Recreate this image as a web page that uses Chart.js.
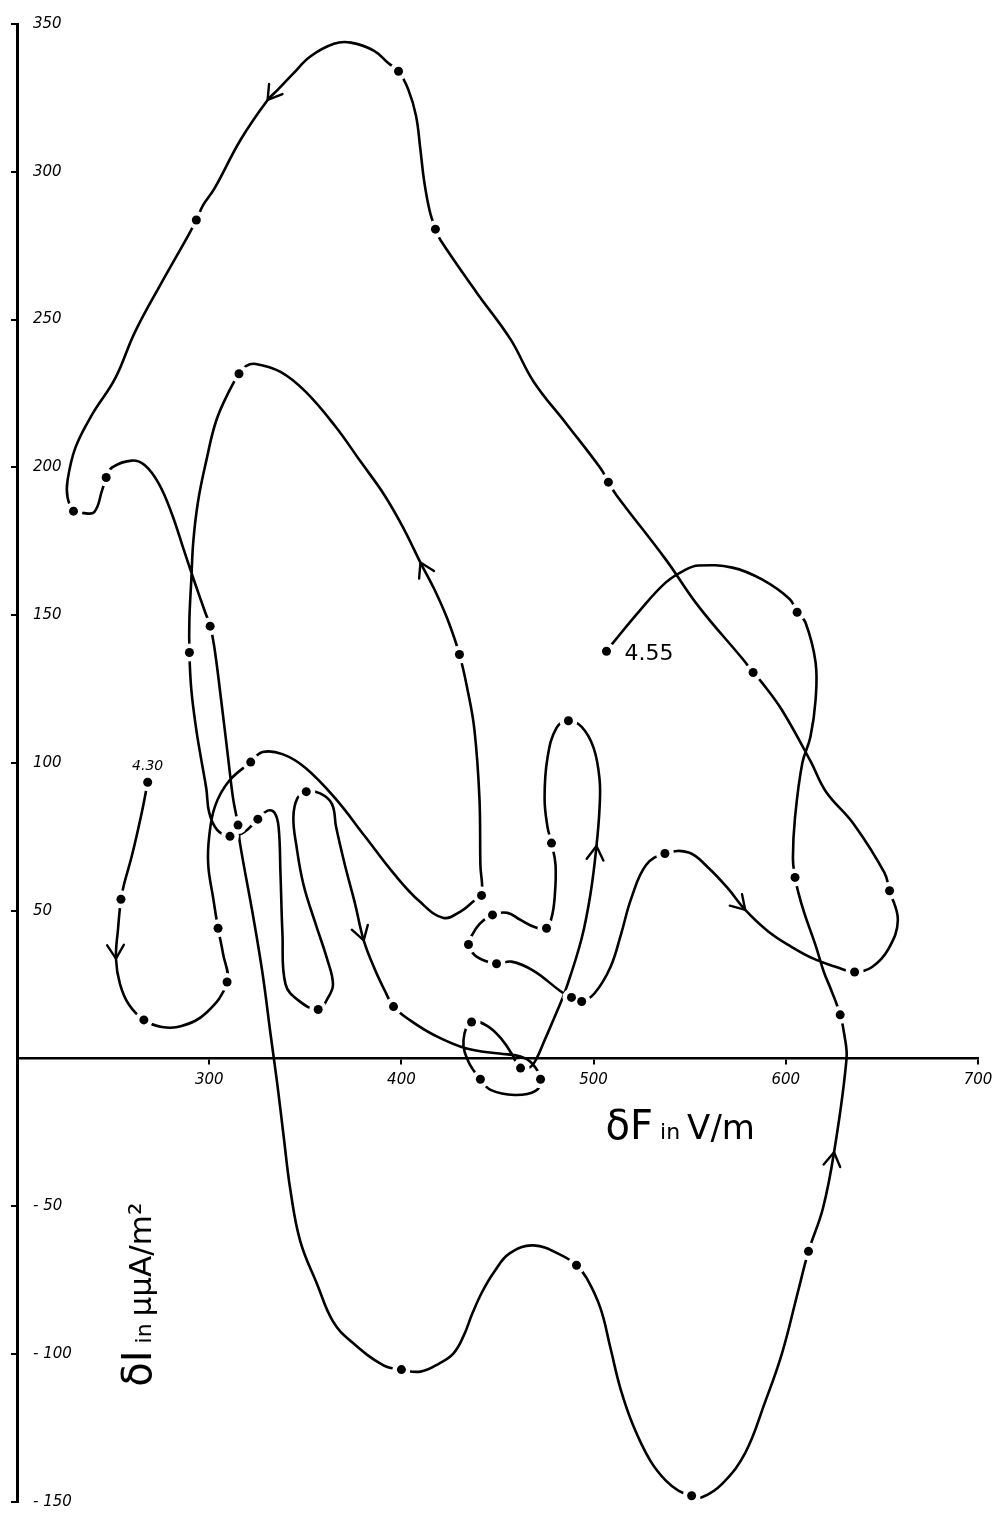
<!DOCTYPE html>
<html>
<head>
<meta charset="utf-8">
<script src="https://cdn.jsdelivr.net/npm/chart.js@4.4.1/dist/chart.umd.min.js"></script>
<style>
  html, body { margin: 0; padding: 0; background: #fff; }
  canvas { display: block; }
</style>
</head>
<body>
<canvas id="phase" width="1001" height="1513"></canvas>
<script>
// δF (V/m) against δI (μμA/m²), traced in time order from 4.30 to 4.55.
// A third entry of 1 marks a timed reading (drawn as a dot).
const run430 = [
  [268.0,93.5,1],[264.9,83.2],[259.8,68.7],[255.7,59.0],[254.1,53.9,1],[252.6,44.1],[251.5,33.8],
  [253.6,25.2],[258.2,18.3],[266.0,13.1,1],[275.3,10.7],[285.6,11.0],[298.5,15.5],[309.3,25.9,1],
  [307.2,35.5],[304.6,44.1,1],[302.1,54.2],[299.5,65.5],[300.0,75.2],[303.1,85.5],[310.3,93.9],
  [321.6,100.3,1],[327.8,103.7],[338.1,103.0],[350.0,98.4],[365.5,88.1],[381.0,75.2],[396.4,62.3],
  [409.4,53.2],[421.9,47.6],[431.3,50.0],[437.5,53.2],[441.7,55.2,1]
];
const innerArch = [
  [441.1,65.5],[440.6,88.1],[438.0,111.2],[434.4,124.8],[430.2,136.7,1],[424.0,148.6],[417.2,158.7],
  [409.9,167.8],[401.5,178.9],[391.2,190.6],[378.4,202.3],[365.5,214.0],[350.0,225.7],[337.1,232.3],
  [324.2,235.0],[319.1,234.3],[315.5,231.7,1],[310.3,225.7],[303.6,215.7],[298.5,202.3],[294.3,188.9],
  [291.8,175.5],[290.7,162.1],[289.7,148.6],[289.7,137.4,1],[290.7,124.8],[293.3,111.2],[295.9,101.0],
  [298.5,91.3],[300.0,83.2],[304.1,77.4]
];
const narrowLoop = [
  [310.8,75.2,1],[318.0,76.5],[325.3,81.0,1],[330.4,83.9],[334.0,83.2],[336.1,78.4],[337.1,62.3],
  [338.1,42.4],[339.7,25.2],[346.4,19.7],[356.7,16.6,1],[361.9,20.7],[364.4,25.2],[361.3,33.8],
  [355.2,45.9],[349.0,59.0],[345.4,71.9],[343.8,81.6],[345.9,88.1],[350.5,90.3,1],[357.7,89.7],
  [363.9,86.1],[366.0,78.4],[370.6,65.5],[375.8,52.6],[380.4,40.0],[386.1,30.3],[391.8,22.4],
  [395.9,17.6,1],[404.2,13.1],[417.2,7.9],[433.9,3.4],[451.0,1.7],[462.0,0.7]
];
const axisLoop = [
  [468.2,-1.8],[472.4,-7.0,1],[469.8,-10.9],[458.9,-12.3],[446.4,-10.6],[441.1,-7.0,1],[434.9,-1.1],
  [432.3,6.2],[436.5,12.4,1],[444.8,11.0],[452.6,6.2],[457.3,1.7],[462.0,-3.2,1],[467.2,-2.8],
  [470.3,0.0],[474.5,6.2],[480.2,14.8],[485.9,24.1],[493.8,40.7],[498.4,55.8]
];
const centreLoop = [
  [501.5,71.9],[503.1,84.8],[503.1,94.5],[500.0,105.1],[493.8,112.2],[486.9,114.3,1],[480.7,111.9],
  [476.0,101.7],[474.5,88.1],[476.0,78.4],[478.1,72.9,1],[480.2,65.5],[479.7,54.2],[478.1,47.6],
  [475.5,44.1,1],[469.3,44.5],[462.0,46.9],[455.2,49.3],[447.4,48.6,1],[440.6,45.5],[435.9,40.7],
  [434.9,38.6,1],[439.1,34.5],[449.5,32.1,1],[457.3,32.8],[468.8,29.7],[482.8,22.8],[488.5,20.7,1],
  [493.8,19.3,1],[500.5,22.1],[508.8,31.0],[514.4,42.4],[519.6,54.2],[527.3,65.5],[537.1,69.4,1],
  [549.5,69.7],[559.8,64.5],[570.1,57.4],[578.9,50.3],[590.7,43.1],[602.7,37.9],[614.4,33.8],
  [626.2,31.0],[635.8,29.3,1],[644.9,31.0],[653.5,37.2],[658.3,46.9],[654.0,56.8,1]
];
const outerArch = [
  [651.3,62.9],[635.3,79.4],[620.9,90.3],[612.8,100.7],[597.9,118.0],[587.6,127.2],[583.0,130.6,1],
  [577.8,135.0],[554.6,153.0],[537.6,168.8],[511.9,190.6],[507.7,195.0,1],[503.6,199.7],[485.9,214.7],
  [468.8,229.0],[456.8,243.3],[439.1,259.2],[420.3,276.9],[417.7,280.6,1],[414.6,287.1],[411.8,297.0],
  [409.8,308.0],[407.6,319.0],[403.6,327.8],[398.5,334.0,1],[393.3,336.7],[385.6,341.0],[373.7,343.7],
  [364.9,343.3],[352.6,339.0],[343.8,333.3],[335.6,327.7],[330.4,324.3],[316.5,311.0],[302.6,294.2],
  [296.9,288.8],[293.3,283.7,1],[289.2,278.6],[275.3,262.6],[261.3,245.7],[251.0,230.0],[239.2,218.0],
  [230.4,206.7],[226.3,195.6],[226.3,189.9],[229.4,185.2,1],[234.0,184.6],[240.2,184.9],[244.3,192.3],
  [246.4,196.6,1],[249.5,200.0],[259.8,202.3],[266.5,200.7],[273.7,194.6],[280.4,184.6],[287.1,171.5],
  [292.3,161.4],[297.9,151.0],[300.5,146.3,1],[302.6,139.5],[306.2,121.4],[309.8,102.0],[312.4,88.1],
  [315.0,79.0,1],[316.0,72.9],[323.2,46.9],[327.8,28.6],[332.0,7.9],[335.6,-9.5]
];
const lowerLobe = [
  [338.7,-26.1],[342.3,-44.7],[347.4,-61.8],[356.2,-76.4],[364.4,-88.9],[373.7,-95.6],[390.7,-103.8],
  [400.0,-105.2,1],[409.9,-105.9],[419.8,-103.1],[427.1,-99.7],[432.3,-93.9],[437.0,-86.1],
  [442.2,-78.7],[448.4,-72.0],[456.3,-65.9],[468.8,-63.2],[484.4,-66.9],[491.1,-69.9,1],[496.4,-74.3],
  [503.6,-84.5],[508.8,-98.0],[514.0,-111.7],[520.6,-124.1],[529.4,-135.9],[537.6,-142.8],
  [544.3,-146.2],[551.0,-147.9,1],[556.7,-148.3],[567.0,-143.8],[578.9,-133.4],[589.2,-116.2],
  [597.9,-100.0],[606.4,-78.7],[611.8,-65.2,1],[619.3,-50.7],[625.1,-31.7],[631.6,0.0]
];
const run455 = [
  [630.5,7.9],[628.3,14.8,1],[623.5,23.4],[619.8,29.3],[615.5,38.3],[609.6,49.3],[606.4,56.5],
  [604.8,61.3,1],[603.7,67.7],[604.8,81.6],[608.6,100.0],[612.8,108.8],[615.5,121.4],[615.5,134.0],
  [610.2,147.6],[605.9,151.0,1],[602.1,155.4],[587.6,162.1],[572.2,166.1],[554.6,166.8],[547.9,165.4],
  [537.6,161.1],[523.7,151.3],[510.3,140.8],[506.7,137.8,1]
];

// points on the trace where the direction of travel is marked
const arrowAt = [[251.5,33.8],[409.9,167.8],[380.4,40.0],[501.5,71.9],[578.9,50.3],[330.4,324.3],[625.1,-31.7]];

const startLabel = '4.30';
const endLabel = '4.55';
const xTicks = [300, 400, 500, 600, 700];
const yTicks = [-150, -100, -50, 50, 100, 150, 200, 250, 300, 350];

const trace = [].concat(run430, innerArch, narrowLoop, axisLoop, centreLoop, outerArch, lowerLobe, run455);
const tracePts = trace.map(p => ({ x: p[0], y: p[1] }));
const readings = trace.filter(p => p[2]);
const dotPts = readings.map(p => ({ x: p[0], y: p[1] }));
const gapPts = readings.map(p => ({ x: p[0], y: p[1] }));

const HAND = '"DejaVu Sans", "Liberation Sans", sans-serif';

const arrowHeads = {
  id: 'arrowHeads',
  afterDatasetsDraw(chart) {
    const { ctx, scales: { x, y } } = chart;
    ctx.save();
    ctx.strokeStyle = '#000';
    ctx.lineWidth = 2.4;
    ctx.lineCap = 'round';
    ctx.lineJoin = 'round';
    arrowAt.forEach(([ax, ay]) => {
      let best = 0, bd = Infinity;
      trace.forEach((p, i) => {
        const d = (p[0] - ax) ** 2 + (p[1] - ay) ** 2;
        if (d < bd) { bd = d; best = i; }
      });
      const a = trace[Math.max(best - 1, 0)], b = trace[Math.min(best + 1, trace.length - 1)];
      const px = x.getPixelForValue(trace[best][0]), py = y.getPixelForValue(trace[best][1]);
      const ang = Math.atan2(y.getPixelForValue(b[1]) - y.getPixelForValue(a[1]),
                             x.getPixelForValue(b[0]) - x.getPixelForValue(a[0]));
      const L = 16, spread = 0.55;
      ctx.beginPath();
      ctx.moveTo(px - L * Math.cos(ang - spread), py - L * Math.sin(ang - spread));
      ctx.lineTo(px, py);
      ctx.lineTo(px - L * Math.cos(ang + spread), py - L * Math.sin(ang + spread));
      ctx.stroke();
    });
    ctx.restore();
  }
};

const captions = {
  id: 'captions',
  afterDraw(chart) {
    const { ctx, scales: { x, y } } = chart;
    ctx.save();
    ctx.fillStyle = '#000';
    ctx.textBaseline = 'alphabetic';

    // horizontal axis title, below the zero line
    let cx = x.getPixelForValue(500) + 12;
    const cy = y.getPixelForValue(0) + 80;
    [['δF', 40], [' in ', 22], ['V/m', 34]].forEach(([t, s]) => {
      ctx.font = `${s}px ${HAND}`;
      ctx.fillText(t, cx, cy);
      cx += ctx.measureText(t).width;
    });

    // vertical axis title, reading upwards
    ctx.save();
    ctx.translate(x.getPixelForValue(200) + 134, y.getPixelForValue(-111));
    ctx.rotate(-Math.PI / 2);
    let tx = 0;
    [['δI', 40], [' in ', 22], ['μμA/m²', 31]].forEach(([t, s]) => {
      ctx.font = `${s}px ${HAND}`;
      ctx.fillText(t, tx, 0);
      tx += ctx.measureText(t).width;
    });
    ctx.restore();

    // start and end times of the run
    const s = trace[0], e = trace[trace.length - 1];
    ctx.font = `italic 14px ${HAND}`;
    ctx.textAlign = 'center';
    ctx.fillText(startLabel, x.getPixelForValue(s[0]), y.getPixelForValue(s[1]) - 12);
    ctx.font = `22px ${HAND}`;
    ctx.textAlign = 'left';
    ctx.fillText(endLabel, x.getPixelForValue(e[0]) + 18, y.getPixelForValue(e[1]) + 9);
    ctx.restore();
  }
};

new Chart(document.getElementById('phase'), {
  type: 'scatter',
  data: {
    datasets: [
      {
        data: dotPts, order: 1, showLine: false,
        pointRadius: 4.5, pointHoverRadius: 4.5,
        pointBackgroundColor: '#000', pointBorderWidth: 0
      },
      {
        data: gapPts, order: 2, showLine: false,
        pointRadius: 9, pointHoverRadius: 9,
        pointBackgroundColor: '#fff', pointBorderColor: '#fff', pointBorderWidth: 0
      },
      {
        data: tracePts, order: 3, showLine: true,
        borderColor: '#000', borderWidth: 2.6, tension: 0.4,
        pointRadius: 0, pointHoverRadius: 0, fill: false,
        borderCapStyle: 'round', borderJoinStyle: 'round'
      }
    ]
  },
  options: {
    responsive: false,
    animation: false,
    events: [],
    layout: { padding: { left: 17, right: 23, top: 24, bottom: 11 } },
    plugins: { legend: { display: false }, tooltip: { enabled: false } },
    scales: {
      x: {
        type: 'linear', min: 200, max: 700,
        position: { y: 0 },
        afterBuildTicks: s => { s.ticks = xTicks.map(v => ({ value: v })); },
        grid: { drawOnChartArea: false, drawTicks: true, tickLength: 5, color: '#000', lineWidth: 2 },
        border: { display: true, color: '#000', width: 2.5 },
        ticks: {
          color: '#000', padding: 8, maxRotation: 0, autoSkip: false,
          font: { family: HAND, size: 15, style: 'italic' }
        }
      },
      y: {
        type: 'linear', min: -150, max: 350,
        afterBuildTicks: s => { s.ticks = yTicks.map(v => ({ value: v })); },
        afterFit: s => { s.width = 0; s.paddingTop = 4; s.paddingBottom = 4; },
        grid: { drawOnChartArea: false, drawTicks: true, tickLength: 6, color: '#000', lineWidth: 2 },
        border: { display: true, color: '#000', width: 3 },
        ticks: {
          mirror: true, padding: 16, color: '#000', autoSkip: false,
          font: { family: HAND, size: 15, style: 'italic' },
          callback: v => (v < 0 ? '- ' + Math.abs(v) : String(v))
        }
      }
    }
  },
  plugins: [arrowHeads, captions]
});
</script>
</body>
</html>
